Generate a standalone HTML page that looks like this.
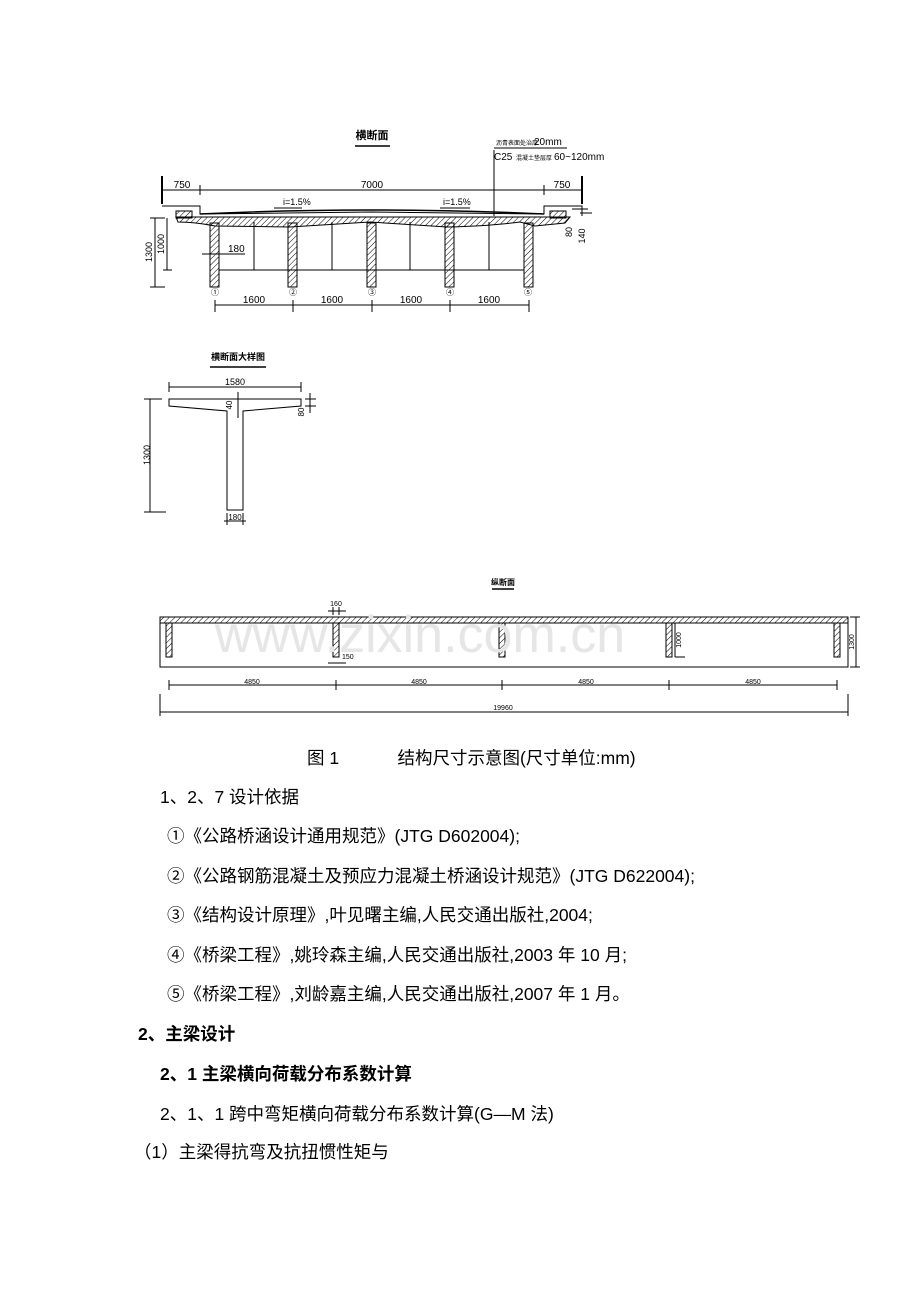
<!DOCTYPE html>
<html><head><meta charset="utf-8"><style>
body{margin:0;width:920px;height:1302px;background:#fff;position:relative;font-family:"Liberation Sans","Noto Sans CJK SC",sans-serif;color:#000}
.t{position:absolute;font-size:17.5px;white-space:nowrap;line-height:20px}
.b{font-weight:bold}
svg{position:absolute;left:0;top:0}
</style></head><body>
<svg width="920" height="730" viewBox="0 0 920 730" font-family="Liberation Sans,Noto Sans CJK SC,sans-serif">
<defs><pattern id="h" width="4" height="4" patternUnits="userSpaceOnUse" patternTransform="rotate(45)"><line x1="0" y1="0" x2="0" y2="4" stroke="#000" stroke-width="1"/></pattern></defs>
<g stroke="#000" fill="none" stroke-width="1">
<text x="372" y="139" font-size="11" fill="#000" stroke="none" text-anchor="middle" font-weight="bold">横断面</text>
<line x1="355" y1="146" x2="390" y2="146" stroke-width="1.5"/>
<text x="496" y="145" font-size="6" fill="#000" stroke="none">沥青表面处治厚</text><text x="534" y="145" font-size="10" fill="#000" stroke="none">20mm</text>
<line x1="494" y1="148" x2="567" y2="148"/>
<text x="494" y="160" font-size="10" fill="#000" stroke="none">C25</text><text x="516" y="160" font-size="6" fill="#000" stroke="none">混凝土垫层厚</text><text x="554" y="160" font-size="10" fill="#000" stroke="none">60~120mm</text>
<line x1="494" y1="150" x2="494" y2="216"/>
<line x1="162" y1="176" x2="162" y2="204" stroke-width="2"/>
<line x1="582" y1="176" x2="582" y2="204" stroke-width="2"/>
<line x1="162" y1="190" x2="582" y2="190"/>
<line x1="200" y1="185" x2="200" y2="195"/><line x1="544" y1="185" x2="544" y2="195"/>
<text x="182" y="188" font-size="10" fill="#000" stroke="none" text-anchor="middle">750</text>
<text x="372" y="188" font-size="10" fill="#000" stroke="none" text-anchor="middle">7000</text>
<text x="562" y="188" font-size="10" fill="#000" stroke="none" text-anchor="middle">750</text>
<text x="283" y="205" font-size="9" fill="#000" stroke="none">i=1.5%</text><line x1="274" y1="208" x2="302" y2="208"/>
<text x="443" y="205" font-size="9" fill="#000" stroke="none">i=1.5%</text><line x1="440" y1="208" x2="470" y2="208"/>
<path d="M162 206 H200 V214 L372 212 L544 214 V206 H582 V216" />
<path d="M200 214 Q372 206 544 214" stroke-width="1.5"/>
<rect x="176" y="211" width="16" height="7" fill="url(#h)"/><rect x="550" y="211" width="16" height="7" fill="url(#h)"/>
<path d="M176 217 H570 L565 223 L535 226 L520 222 Q490 226 447 227 L370 222 L290 227 L215 226 Q195 222 178 222 Z" fill="url(#h)"/>
<rect x="210" y="223" width="9" height="64" fill="url(#h)"/>
<rect x="288" y="223" width="9" height="64" fill="url(#h)"/>
<rect x="367" y="223" width="9" height="64" fill="url(#h)"/>
<rect x="445" y="223" width="9" height="64" fill="url(#h)"/>
<rect x="524" y="223" width="9" height="64" fill="url(#h)"/>
<line x1="219" y1="270" x2="524" y2="270"/>
<line x1="254" y1="222" x2="254" y2="270"/><line x1="332" y1="222" x2="332" y2="270"/><line x1="410" y1="222" x2="410" y2="270"/><line x1="489" y1="222" x2="489" y2="270"/>
<line x1="155" y1="218" x2="155" y2="287"/><line x1="150" y1="218" x2="165" y2="218"/><line x1="150" y1="287" x2="165" y2="287"/>
<line x1="167" y1="218" x2="167" y2="270"/><line x1="163" y1="270" x2="172" y2="270"/>
<text x="152" y="252" font-size="9" fill="#000" stroke="none" transform="rotate(-90 152 252)" text-anchor="middle">1300</text>
<text x="164" y="244" font-size="9" fill="#000" stroke="none" transform="rotate(-90 164 244)" text-anchor="middle">1000</text>
<line x1="202" y1="254" x2="245" y2="254"/><text x="228" y="252" font-size="10" fill="#000" stroke="none">180</text>
<line x1="572" y1="209" x2="588" y2="209"/><line x1="580" y1="213" x2="592" y2="213"/>
<text x="572" y="232" font-size="9" fill="#000" stroke="none" transform="rotate(-90 572 232)" text-anchor="middle">80</text>
<text x="585" y="236" font-size="9" fill="#000" stroke="none" transform="rotate(-90 585 236)" text-anchor="middle">140</text>
<g font-size="8" fill="#000" stroke="none" text-anchor="middle"><text x="215" y="295">①</text><text x="293" y="295">②</text><text x="372" y="295">③</text><text x="450" y="295">④</text><text x="528" y="295">⑤</text></g>
<line x1="215" y1="305" x2="529" y2="305"/>
<line x1="215" y1="300" x2="215" y2="312"/><line x1="293" y1="300" x2="293" y2="312"/><line x1="372" y1="300" x2="372" y2="312"/><line x1="450" y1="300" x2="450" y2="312"/><line x1="529" y1="300" x2="529" y2="312"/>
<g font-size="10" fill="#000" stroke="none" text-anchor="middle"><text x="254" y="303">1600</text><text x="332" y="303">1600</text><text x="411" y="303">1600</text><text x="489" y="303">1600</text></g>
<text x="238" y="360" font-size="9" font-weight="bold" fill="#000" stroke="none" text-anchor="middle">横断面大样图</text>
<line x1="210" y1="367" x2="266" y2="367" stroke-width="1.5"/>
<line x1="169" y1="387" x2="301" y2="387"/><line x1="169" y1="382" x2="169" y2="392"/><line x1="301" y1="382" x2="301" y2="392"/>
<text x="235" y="385" font-size="9" fill="#000" stroke="none" text-anchor="middle">1580</text>
<path d="M169 399 H301 V406 L243 411 V510 H227 V411 L169 406 Z"/>
<line x1="150" y1="399" x2="150" y2="512"/><line x1="144" y1="399" x2="162" y2="399"/><line x1="144" y1="512" x2="166" y2="512"/>
<text x="150" y="455" font-size="9" fill="#000" stroke="none" transform="rotate(-90 150 455)" text-anchor="middle">1300</text>
<line x1="238" y1="392" x2="238" y2="418"/><text x="232" y="405" font-size="8" fill="#000" stroke="none" transform="rotate(-90 232 405)" text-anchor="middle">40</text>
<line x1="310" y1="393" x2="310" y2="413"/><line x1="305" y1="399" x2="316" y2="399"/><line x1="305" y1="406" x2="316" y2="406"/>
<text x="304" y="412" font-size="8" fill="#000" stroke="none" transform="rotate(-90 304 412)" text-anchor="middle">80</text>
<line x1="224" y1="521" x2="246" y2="521"/><line x1="227" y1="513" x2="227" y2="525"/><line x1="243" y1="513" x2="243" y2="525"/>
<text x="235" y="520" font-size="8" fill="#000" stroke="none" text-anchor="middle">180</text>
<text x="503" y="585" font-size="8" font-weight="bold" fill="#000" stroke="none" text-anchor="middle">纵断面</text>
<line x1="492" y1="589" x2="514" y2="589" stroke-width="1.5"/>
<rect x="160" y="617" width="688" height="50"/>
<rect x="160" y="617" width="688" height="6" fill="url(#h)"/>
<rect x="166" y="623" width="6" height="34" fill="url(#h)"/>
<rect x="333" y="623" width="6" height="34" fill="url(#h)"/>
<rect x="499" y="623" width="6" height="34" fill="url(#h)"/>
<rect x="666" y="623" width="6" height="34" fill="url(#h)"/>
<rect x="834" y="623" width="6" height="34" fill="url(#h)"/>
<text x="336" y="606" font-size="7" fill="#000" stroke="none" text-anchor="middle">160</text>
<line x1="328" y1="611" x2="346" y2="611"/><line x1="333" y1="607" x2="333" y2="615"/><line x1="339" y1="607" x2="339" y2="615"/>
<text x="342" y="659" font-size="7" fill="#000" stroke="none">150</text>
<line x1="328" y1="663" x2="346" y2="663"/>
<line x1="675" y1="623" x2="675" y2="657"/><line x1="675" y1="657" x2="685" y2="657"/>
<text x="681" y="640" font-size="7" fill="#000" stroke="none" transform="rotate(-90 681 640)" text-anchor="middle">1000</text>
<line x1="856" y1="617" x2="856" y2="667"/><line x1="850" y1="617" x2="860" y2="617"/><line x1="850" y1="667" x2="860" y2="667"/>
<text x="854" y="642" font-size="7" fill="#000" stroke="none" transform="rotate(-90 854 642)" text-anchor="middle">1300</text>
<line x1="169" y1="685" x2="837" y2="685"/>
<g><line x1="169" y1="680" x2="169" y2="690"/><line x1="336" y1="680" x2="336" y2="690"/><line x1="502" y1="680" x2="502" y2="690"/><line x1="669" y1="680" x2="669" y2="690"/><line x1="837" y1="680" x2="837" y2="690"/></g>
<g font-size="7" fill="#000" stroke="none" text-anchor="middle"><text x="252" y="684">4850</text><text x="419" y="684">4850</text><text x="586" y="684">4850</text><text x="753" y="684">4850</text><text x="503" y="710">19960</text></g>
<line x1="160" y1="712" x2="848" y2="712"/><line x1="160" y1="694" x2="160" y2="716"/><line x1="848" y1="694" x2="848" y2="716"/>
</g>
<text x="420" y="652" font-size="52" fill="#e6e6e6" text-anchor="middle" font-family="Liberation Sans,sans-serif">www.zixin.com.cn</text>
</svg>
<div class="t" style="left:307px;top:748px">图 1&nbsp;&nbsp;&nbsp;&nbsp;&nbsp;&nbsp;&nbsp;&nbsp;&nbsp;&nbsp;&nbsp;&nbsp;结构尺寸示意图(尺寸单位:mm)</div>
<div class="t" style="left:160px;top:787px">1、2、7 设计依据</div>
<div class="t" style="left:167px;top:826px">①《公路桥涵设计通用规范》(JTG D602004);</div>
<div class="t" style="left:167px;top:866px">②《公路钢筋混凝土及预应力混凝土桥涵设计规范》(JTG D622004);</div>
<div class="t" style="left:167px;top:905px">③《结构设计原理》,叶见曙主编,人民交通出版社,2004;</div>
<div class="t" style="left:167px;top:945px">④《桥梁工程》,姚玲森主编,人民交通出版社,2003 年 10 月;</div>
<div class="t" style="left:167px;top:984px">⑤《桥梁工程》,刘龄嘉主编,人民交通出版社,2007 年 1 月。</div>
<div class="t b" style="left:138px;top:1024px">2、主梁设计</div>
<div class="t b" style="left:160px;top:1064px">2、1 主梁横向荷载分布系数计算</div>
<div class="t" style="left:160px;top:1104px">2、1、1 跨中弯矩横向荷载分布系数计算(G—M 法)</div>
<div class="t" style="left:134px;top:1142px">（1）主梁得抗弯及抗扭惯性矩与</div>
</body></html>
